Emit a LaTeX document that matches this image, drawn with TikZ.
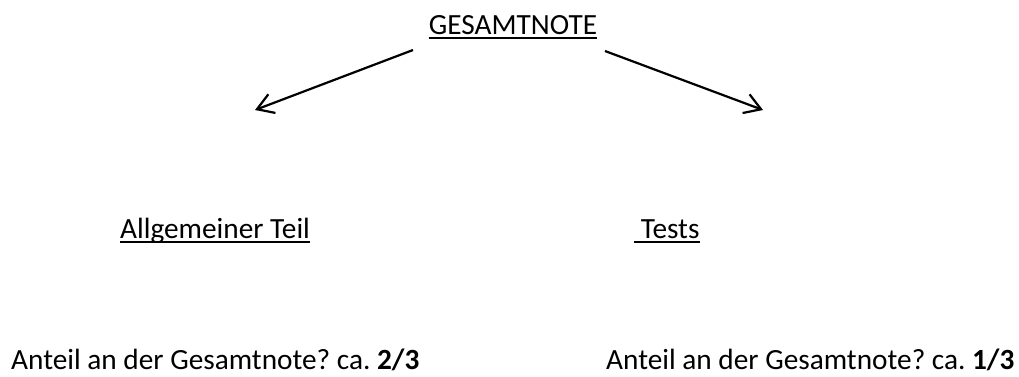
\documentclass[tikz,border=0pt]{standalone}
\usepackage{fontspec}
\setmainfont{Carlito}
\usetikzlibrary{arrows.meta}
\usetikzlibrary{positioning}
\tikzset{barb/.style = {-{Straight Barb[length=16pt, width=20pt, line width=2.2pt]},
                        line width=2.2pt}}
\tikzset{txt/.style = {inner sep = 0, anchor = base west,
                       font = \fontsize{29.3}{34}\selectfont}}
\tikzset{uline/.style = {line width=2.2pt}}

\begin{document}
\frenchspacing
\begin{tikzpicture}[x=1pt, y=-1pt]
    \useasboundingbox (0, 0) rectangle (1019, 376);

    \node [txt, anchor=base] (total) at (513, 34) {GESAMTNOTE};
    \draw [uline] ([yshift=-4pt]total.base west) -- ([yshift=-4pt]total.base east);

    \coordinate (lstart) at (413, 50);
    \coordinate (lend) at (255, 110);
    \coordinate (rstart) at (605, 51);
    \coordinate (rend) at (763, 110);
    \draw [barb] (lstart) -- (lend);
    \draw [barb] (rstart) -- (rend);

    \node [txt] (general) at (120, 238) {Allgemeiner Teil};
    \draw [uline] ([yshift=-4pt]general.base west) -- ([yshift=-4pt]general.base east);
    \node [txt] (tests) at (634, 238) {\ Tests};
    \draw [uline] ([yshift=-4pt]tests.base west) -- ([yshift=-4pt]tests.base east);

    \node [txt] (gshare) at (11, 369) {Anteil an der Gesamtnote? ca. \textbf{2/3}};
    \node [txt] (tshare) at (606, 369) {Anteil an der Gesamtnote? ca. \textbf{1/3}};
  \end{tikzpicture}
\end{document}
